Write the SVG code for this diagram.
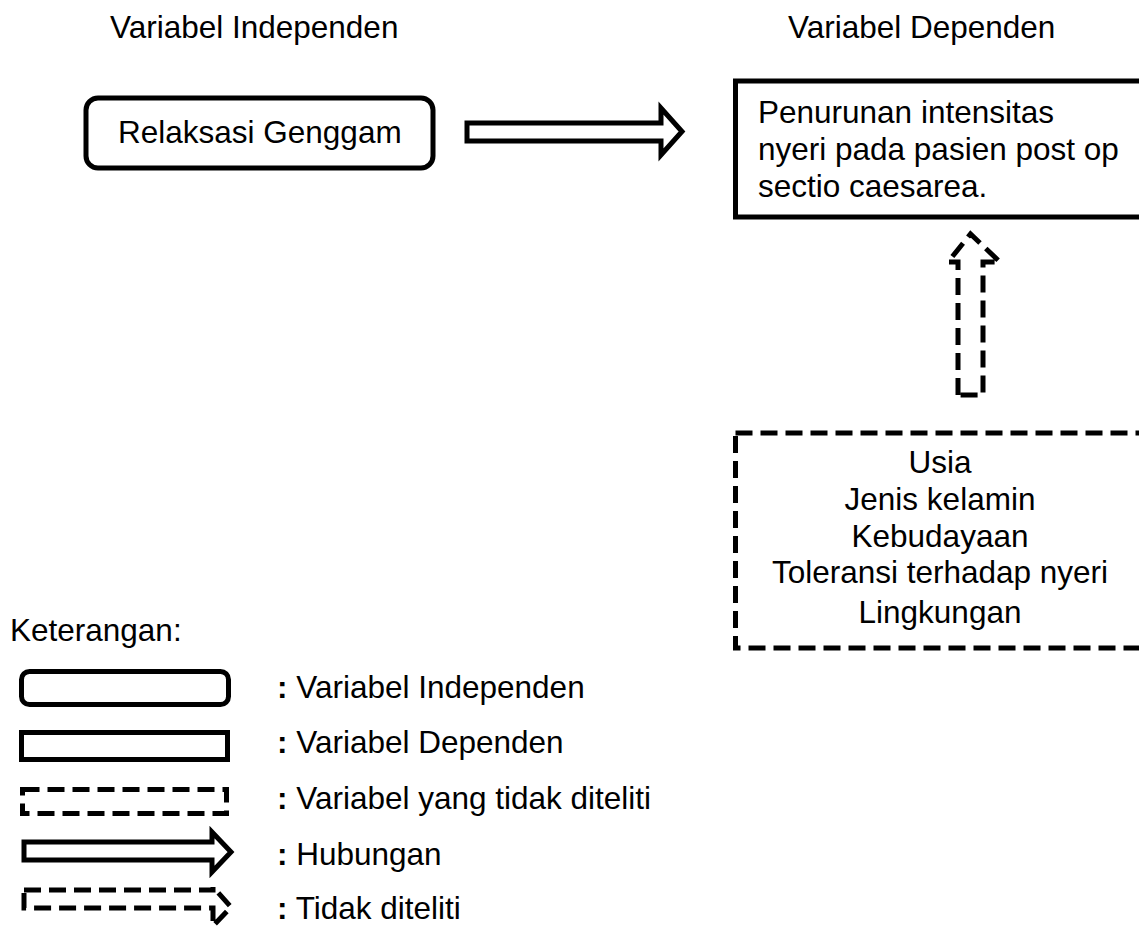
<svg xmlns="http://www.w3.org/2000/svg" width="1139" height="927" viewBox="0 0 1139 927">
<style>
text{font-family:"Liberation Sans",Arial,sans-serif;font-size:31.5px;fill:#000}
.s{fill:#fff;stroke:#000;stroke-width:5;stroke-linejoin:miter}
.d{fill:#fff;stroke:#000;stroke-width:5;stroke-dasharray:17 8}
.c{text-anchor:middle}
.b{font-weight:bold}
</style>
<rect width="1139" height="927" fill="#fff"/>
<g id="titles">
<text x="110" y="38">Variabel Independen</text>
<text x="788" y="38">Variabel Dependen</text>
</g>
<g id="relaksasi">
<rect class="s" x="86" y="98" width="347" height="70" rx="12"/>
<text x="118" y="143">Relaksasi Genggam</text>
</g>
<g id="penurunan">
<rect class="s" x="735.5" y="81" width="420" height="136"/>
<text x="758" y="123">Penurunan intensitas</text>
<text x="758" y="160">nyeri pada pasien post op</text>
<text x="758" y="197">sectio caesarea.</text>
</g>
<g id="faktor">
<rect class="d" x="735.5" y="433" width="420" height="215"/>
<text class="c" x="940" y="473">Usia</text>
<text class="c" x="940" y="510">Jenis kelamin</text>
<text class="c" x="940" y="547">Kebudayaan</text>
<text class="c" x="940" y="583">Toleransi terhadap nyeri</text>
<text class="c" x="940" y="623">Lingkungan</text>
</g>
<g id="connectors">
<path class="s" d="M467 123 H661 V108 L682 131.5 L661 155 V141 H467 Z"/>
<path class="d" d="M958 395 V262 H948 L970.5 234 L1000 262 H983 V395 Z" stroke-dasharray="14 7"/>
</g>
<g id="legend">
<text x="10" y="641">Keterangan:</text>
<rect class="s" x="21.5" y="671.5" width="207" height="33" rx="8"/>
<rect class="s" x="21.5" y="732.5" width="206" height="27"/>
<rect class="d" x="22.5" y="789.5" width="204" height="24" stroke-dasharray="16 8"/>
<path class="s" d="M24 842 H212 V832 L231 852 L212 872 V860 H24 Z"/>
<path class="d" d="M24 890 H213 V887 L231 907 L213 926 V908 H24 Z" stroke-dasharray="16 8"/>
<text x="277" y="698"><tspan class="b">:</tspan> Variabel Independen</text>
<text x="277" y="753"><tspan class="b">:</tspan> Variabel Dependen</text>
<text x="277" y="809"><tspan class="b">:</tspan> Variabel yang tidak diteliti</text>
<text x="277" y="865"><tspan class="b">:</tspan> Hubungan</text>
<text x="277" y="919"><tspan class="b">:</tspan> Tidak diteliti</text>
</g>
</svg>
